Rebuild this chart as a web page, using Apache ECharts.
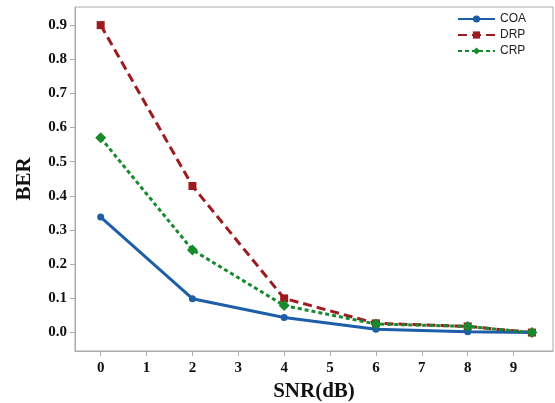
<!DOCTYPE html>
<html><head><meta charset="utf-8">
<script src="https://cdn.jsdelivr.net/npm/echarts@6/dist/echarts.min.js"></script>
<style>html,body{margin:0;padding:0;background:#fff}#c{width:555px;height:403px}</style>
</head><body><div id="c"></div>
<script>
const snr = [0, 2, 4, 6, 8, 9.4];
const coa = [0.338, 0.099, 0.044, 0.010, 0.002, 0.000];
const drp = [0.900, 0.429, 0.100, 0.027, 0.018, 0.000];
const crp = [0.570, 0.242, 0.079, 0.025, 0.018, 0.000];
const xTicks = [0, 1, 2, 3, 4, 5, 6, 7, 8, 9];
const yTicks = [0.0, 0.1, 0.2, 0.3, 0.4, 0.5, 0.6, 0.7, 0.8, 0.9];
const names = ['COA', 'DRP', 'CRP'];

const pair = (ys) => snr.map((x, i) => [x, ys[i]]);
const chart = echarts.init(document.getElementById('c'));
const labelFont = {fontFamily: 'Liberation Serif', fontWeight: 'bold', fontSize: 15, color: '#111'};
chart.setOption({
  animation: false,
  grid: {left: 75, right: 2, top: 7, bottom: 52, show: true, borderColor: '#aaa', borderWidth: 1,
         containLabel: false, outerBoundsMode: 'none'},
  legend: {
    data: names, orient: 'vertical', right: 24, top: 8, itemWidth: 37, itemHeight: 9, itemGap: 4,
    textStyle: {fontFamily: 'Liberation Sans', fontSize: 12, color: '#222'}
  },
  xAxis: {
    type: 'value', min: -0.56, max: 9.86,
    name: 'SNR(dB)', nameLocation: 'middle', nameGap: 30,
    nameTextStyle: {fontFamily: 'Liberation Serif', fontWeight: 'bold', fontSize: 21, color: '#111'},
    axisLine: {show: true, onZero: false, lineStyle: {color: '#aaa'}},
    axisTick: {show: true, customValues: xTicks, length: 5, lineStyle: {color: '#aaa'}},
    axisLabel: Object.assign({customValues: xTicks, margin: 10}, labelFont),
    splitLine: {show: false}
  },
  yAxis: {
    type: 'value', min: -0.054, max: 0.953,
    name: 'BER', nameLocation: 'middle', nameGap: 40, nameRotate: 90,
    nameTextStyle: {fontFamily: 'Liberation Serif', fontWeight: 'bold', fontSize: 21, color: '#111'},
    axisLine: {show: true, onZero: false, lineStyle: {color: '#aaa'}},
    axisTick: {show: true, customValues: yTicks, length: 5, lineStyle: {color: '#aaa'}},
    axisLabel: Object.assign({customValues: yTicks, margin: 8, formatter: v => v.toFixed(1)}, labelFont),
    splitLine: {show: false}
  },
  series: [
    {name: 'COA', type: 'line', data: pair(coa), symbol: 'circle', symbolSize: 7,
     lineStyle: {color: '#1d5ea8', width: 3}, itemStyle: {color: '#1d5ea8'}, z: 3},
    {name: 'DRP', type: 'line', data: pair(drp), symbol: 'rect', symbolSize: 8,
     lineStyle: {color: '#9c1b1f', width: 3, type: [9, 5]}, itemStyle: {color: '#9c1b1f'}, z: 2},
    {name: 'CRP', type: 'line', data: pair(crp), symbol: 'diamond', symbolSize: 11,
     lineStyle: {color: '#168a2c', width: 3, type: [4, 3]}, itemStyle: {color: '#168a2c'}, z: 4}
  ]
});
</script></body></html>
